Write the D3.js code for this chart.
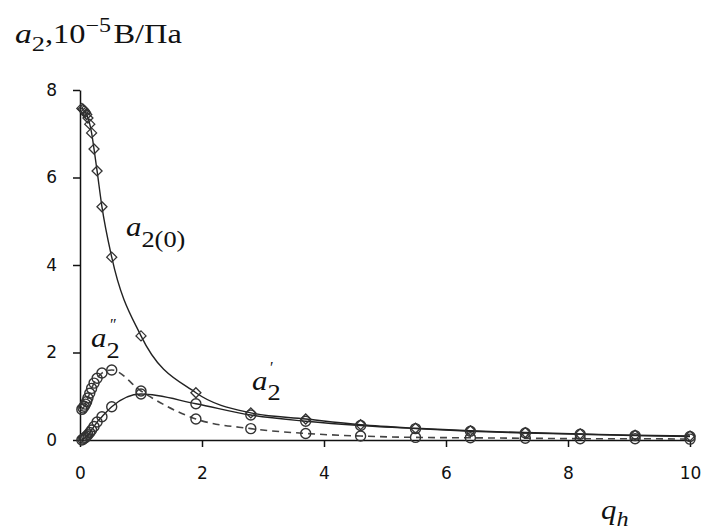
<!DOCTYPE html>
<html>
<head>
<meta charset="utf-8">
<script src="https://cdn.jsdelivr.net/npm/d3@7"></script>
<style>
  body { margin: 0; background: #fff; }
  .axis path, .axis line { stroke: #111; stroke-width: 1.5; }
  .axis text { font-family: "DejaVu Sans", sans-serif; font-size: 17px; fill: #111; }
  .lbl { font-family: "Liberation Serif", "Times New Roman", serif; fill: #111; }
</style>
</head>
<body>
<div id="chart"></div>
<script>
(function () {

  // data
  var qh = [0.03, 0.05, 0.07, 0.09, 0.11, 0.13, 0.16, 0.19, 0.23, 0.28, 0.36, 0.52,
            1.0, 1.9, 2.8, 3.7, 4.6, 5.5, 6.4, 7.3, 8.2, 9.1, 10];
  var a20 = [7.58, 7.56, 7.53, 7.49, 7.44, 7.36, 7.22, 7.02, 6.65, 6.15, 5.33, 4.18,
             2.38, 1.08, 0.62, 0.48, 0.35, 0.27, 0.21, 0.17, 0.14, 0.11, 0.09];
  var a2p = [0.0, 0.02, 0.04, 0.06, 0.09, 0.12, 0.17, 0.23, 0.31, 0.41, 0.53, 0.76,
             1.05, 0.83, 0.57, 0.43, 0.33, 0.26, 0.20, 0.16, 0.13, 0.10, 0.08];
  var a2pp = [0.70, 0.73, 0.77, 0.82, 0.88, 0.96, 1.07, 1.18, 1.30, 1.41, 1.53, 1.60,
              1.12, 0.48, 0.26, 0.15, 0.09, 0.06, 0.05, 0.04, 0.03, 0.03, 0.02];
  var xTicks = [0, 2, 4, 6, 8, 10];
  var yTicks = [0, 2, 4, 6, 8];

  var w = 704, h = 530;
  var margin = { top: 90, left: 80, right: 14, bottom: 90 };
  var width = w - margin.left - margin.right;
  var height = h - margin.top - margin.bottom;

  var svg = d3.select("#chart").append("svg")
    .attr("width", w)
    .attr("height", h);

  var g = svg.append("g")
    .attr("transform", "translate(" + margin.left + "," + margin.top + ")");

  var xScale = d3.scaleLinear().domain([0, 10]).range([0, width]);
  var yScale = d3.scaleLinear().domain([0, 8]).range([height, 0]);

  g.append("g")
    .attr("class", "axis")
    .attr("transform", "translate(0," + height + ")")
    .call(d3.axisBottom(xScale).tickValues(xTicks).tickSize(7).tickSizeOuter(0).tickPadding(20));

  g.append("g")
    .attr("class", "axis")
    .call(d3.axisLeft(yScale).tickValues(yTicks).tickSize(7).tickSizeOuter(0).tickPadding(16));

  function series(vals) {
    return qh.map(function (q, i) { return { x: q, y: vals[i] }; });
  }

  var line = d3.line()
    .x(function (d) { return xScale(d.x); })
    .y(function (d) { return yScale(d.y); })
    .curve(d3.curveMonotoneX);

  // a2(0) solid
  g.append("path")
    .datum(series(a20))
    .attr("d", line)
    .style("fill", "none")
    .style("stroke", "#222")
    .style("stroke-width", 1.4);

  // a2' solid
  g.append("path")
    .datum(series(a2p))
    .attr("d", line)
    .style("fill", "none")
    .style("stroke", "#222")
    .style("stroke-width", 1.4);

  // a2'' dashed
  g.append("path")
    .datum(series(a2pp))
    .attr("d", line)
    .style("fill", "none")
    .style("stroke", "#444")
    .style("stroke-width", 1.6)
    .style("stroke-dasharray", "7,5");

  // diamonds
  g.selectAll(".dia")
    .data(series(a20))
    .enter()
    .append("path")
    .attr("class", "dia")
    .attr("d", function (d) {
      var cx = xScale(d.x), cy = yScale(d.y);
      return "M" + cx + " " + (cy - 5) + "L" + (cx + 5) + " " + cy + "L" + cx + " " + (cy + 5) + "L" + (cx - 5) + " " + cy + "z";
    })
    .style("fill", "none")
    .style("stroke", "#333")
    .style("stroke-width", 1.3);

  // circles
  g.selectAll(".c1")
    .data(series(a2p).concat(series(a2pp)))
    .enter()
    .append("circle")
    .attr("class", "c1")
    .attr("r", 5)
    .attr("cx", function (d) { return xScale(d.x); })
    .attr("cy", function (d) { return yScale(d.y); })
    .style("fill", "none")
    .style("stroke", "#333")
    .style("stroke-width", 1.4);

  // y title
  var yt = svg.append("text")
    .attr("class", "lbl")
    .attr("transform", "translate(15,43) scale(1.2,1)");
  yt.append("tspan").style("font-style", "italic").style("font-size", "28px").text("a");
  yt.append("tspan").style("font-size", "22px").attr("dy", 8).text("2");
  yt.append("tspan").style("font-size", "27px").attr("dy", -8).text(",10");
  yt.append("tspan").style("font-size", "20px").attr("dy", -11).text("\u22125");
  yt.append("tspan").style("font-size", "27px").attr("dy", 11).attr("dx", 2).text("В/Па");

  // a2(0)
  var l0 = svg.append("text")
    .attr("class", "lbl")
    .attr("transform", "translate(126,236) scale(1.1,1)");
  l0.append("tspan").style("font-style", "italic").style("font-size", "28px").text("a");
  l0.append("tspan").style("font-size", "24px").attr("dy", 11).text("2(0)");

  // a2''
  var l2 = svg.append("text")
    .attr("class", "lbl")
    .attr("transform", "translate(91,347) scale(1.1,1)");
  l2.append("tspan").style("font-style", "italic").style("font-size", "28px").text("a");
  l2.append("tspan").style("font-size", "24px").attr("dy", 11).text("2");
  svg.append("text")
    .attr("class", "lbl")
    .attr("x", 110).attr("y", 330)
    .style("font-size", "16px")
    .text("\u2033");

  // a2'
  var l1 = svg.append("text")
    .attr("class", "lbl")
    .attr("transform", "translate(252,390) scale(1.1,1)");
  l1.append("tspan").style("font-style", "italic").style("font-size", "28px").text("a");
  l1.append("tspan").style("font-size", "24px").attr("dy", 10).text("2");
  svg.append("text")
    .attr("class", "lbl")
    .attr("x", 270).attr("y", 373)
    .style("font-size", "16px")
    .text("\u2032");

  // q_h
  var lq = svg.append("text")
    .attr("class", "lbl")
    .attr("transform", "translate(601,519) scale(1.1,1)");
  lq.append("tspan").style("font-style", "italic").style("font-size", "28px").text("q");
  lq.append("tspan").style("font-style", "italic").style("font-size", "22px").attr("dy", 7).text("h");

})();
</script>
</body>
</html>
